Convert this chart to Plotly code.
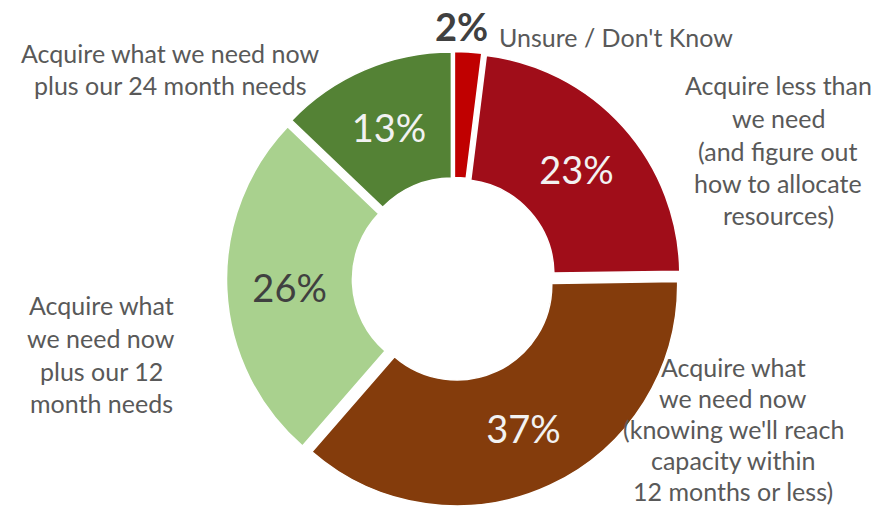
import plotly.graph_objects as go

categories = [
    "Unsure / Don't Know",
    "Acquire less than we need (and figure out how to allocate resources)",
    "Acquire what we need now (knowing we'll reach capacity within 12 months or less)",
    "Acquire what we need now plus our 12 month needs",
    "Acquire what we need now plus our 24 month needs",
]
values = [2, 23, 37, 26, 13]
colors = ["#C00000", "#A00D19", "#843C0C", "#A9D18E", "#548235"]
text_colors = ["#404040", "#F2F2F2", "#F2F2F2", "#404040", "#F2F2F2"]
text_positions = ["none", "inside", "inside", "inside", "inside"]

# category label lines (line text, x px, y px)
label_blocks = [
    (["Unsure / Don't Know"], 497, [37], "left"),
    (["Acquire less than", "we need", "(and figure out", "how to allocate", "resources)"], 778, [85, 118, 151, 183, 215], "center"),
    (["Acquire what", "we need now", "(knowing we'll reach", "capacity within", "12 months or less)"], 733, [367, 398, 429, 460, 491], "center"),
    (["Acquire what", "we need now", "plus our 12", "month needs"], 101, [305, 338, 371, 403], "center"),
    (["Acquire what we need now", "plus our 24 month needs"], 170, [53, 85], "center"),
]

W, H = 884, 509
FONT = "Lato"

fig = go.Figure(go.Pie(
    labels=categories,
    values=values,
    sort=False,
    direction="clockwise",
    rotation=0,
    hole=0.43,
    pull=0.03,
    marker=dict(colors=colors, line=dict(color="white", width=1.5)),
    texttemplate="%{value}%",
    textposition=text_positions,
    insidetextorientation="horizontal",
    textfont=dict(family=FONT, size=38, color=text_colors),
    showlegend=False,
    hoverinfo="label+percent",
    domain=dict(x=[226.5 / W, 681.5 / W], y=[1 - 506.5 / H, 1 - 51.5 / H]),
))

annotations = []
for lines, xc, ys, align in label_blocks:
    for line, y in zip(lines, ys):
        annotations.append(dict(
            text=line, x=xc / W, y=1 - y / H, xref="paper", yref="paper",
            xanchor=align, yanchor="middle", showarrow=False,
            font=dict(family=FONT, size=25, color="#595959"),
        ))

# small slice value shown outside, above the ring
annotations.append(dict(
    text=f"<b>{values[0]}%</b>", x=461 / W, y=1 - 26 / H, xref="paper", yref="paper",
    xanchor="center", yanchor="middle", showarrow=False,
    font=dict(family=FONT, size=38, color="#404040"),
))

fig.update_layout(
    width=W, height=H,
    margin=dict(l=0, r=0, t=0, b=0),
    paper_bgcolor="white",
    plot_bgcolor="white",
    annotations=annotations,
)

fig.write_html("out.html")
